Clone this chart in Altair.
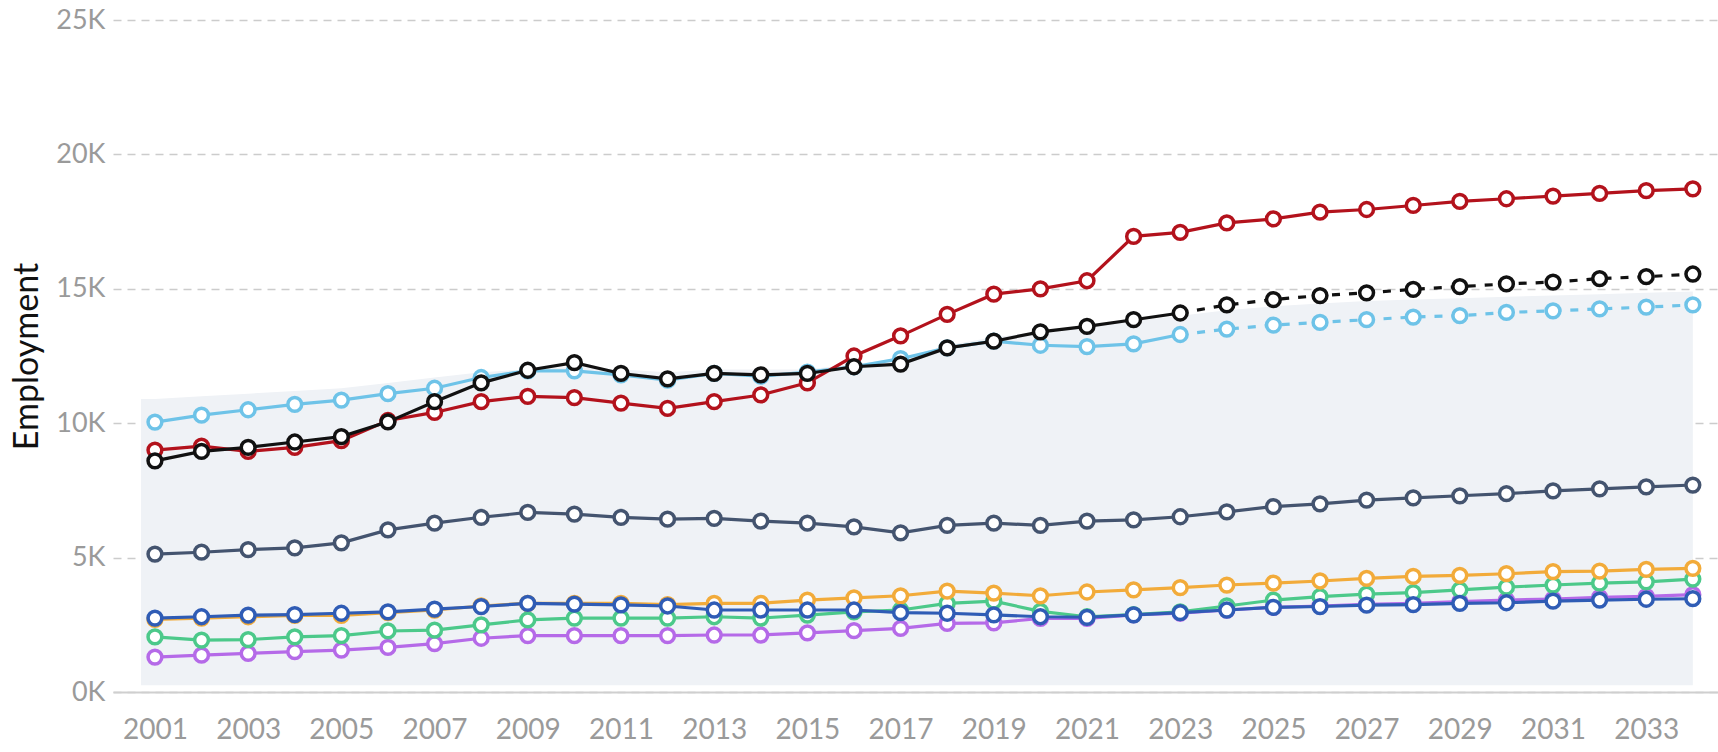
import altair as alt
import pandas as pd

years = list(range(2001, 2035))

red = [9.0, 9.15, 8.95, 9.1, 9.35, 10.1, 10.4, 10.8, 11.0, 10.95, 10.75, 10.55, 10.8, 11.05, 11.5,
       12.5, 13.25, 14.05, 14.8, 15.0, 15.3, 16.95, 17.1, 17.45, 17.6, 17.85, 17.95, 18.1, 18.25,
       18.35, 18.45, 18.55, 18.65, 18.72]
black = [8.6, 8.95, 9.1, 9.3, 9.5, 10.05, 10.8, 11.5, 11.97, 12.25, 11.85, 11.65, 11.85, 11.8, 11.85,
         12.1, 12.2, 12.8, 13.05, 13.4, 13.6, 13.85, 14.1, 14.4, 14.6, 14.75, 14.85, 14.98, 15.08,
         15.18, 15.25, 15.38, 15.45, 15.55]
light_blue = [10.04, 10.3, 10.5, 10.7, 10.86, 11.1, 11.3, 11.7, 11.95, 11.95, 11.8, 11.6, 11.85, 11.75,
              11.9, 12.1, 12.4, 12.8, 13.05, 12.9, 12.85, 12.95, 13.3, 13.5, 13.65, 13.75, 13.85,
              13.95, 14.0, 14.12, 14.18, 14.25, 14.32, 14.4]
slate = [5.13, 5.2, 5.3, 5.36, 5.55, 6.03, 6.28, 6.5, 6.68, 6.62, 6.5, 6.43, 6.46, 6.36, 6.28, 6.14,
         5.92, 6.2, 6.28, 6.2, 6.36, 6.4, 6.52, 6.7, 6.9, 7.0, 7.14, 7.22, 7.3, 7.38, 7.48, 7.56,
         7.63, 7.7]
orange = [2.7, 2.75, 2.8, 2.85, 2.85, 2.95, 3.05, 3.2, 3.3, 3.3, 3.3, 3.25, 3.3, 3.3, 3.42, 3.5, 3.58,
          3.75, 3.68, 3.58, 3.72, 3.8, 3.88, 3.98, 4.05, 4.13, 4.23, 4.3, 4.34, 4.4, 4.48, 4.5,
          4.56, 4.6]
green = [2.05, 1.93, 1.95, 2.05, 2.1, 2.27, 2.3, 2.5, 2.68, 2.75, 2.75, 2.75, 2.8, 2.75, 2.86, 2.98,
         3.05, 3.3, 3.38, 3.0, 2.8, 2.88, 2.98, 3.2, 3.42, 3.55, 3.64, 3.7, 3.8, 3.9, 3.98, 4.05,
         4.1, 4.2]
blue = [2.75, 2.8, 2.86, 2.88, 2.93, 2.98, 3.08, 3.18, 3.3, 3.27, 3.24, 3.2, 3.05, 3.05, 3.05, 3.05,
        2.95, 2.93, 2.87, 2.8, 2.78, 2.87, 2.95, 3.05, 3.15, 3.18, 3.23, 3.25, 3.3, 3.32, 3.38,
        3.42, 3.45, 3.47]
purple = [1.3, 1.37, 1.44, 1.5, 1.56, 1.66, 1.8, 2.0, 2.1, 2.1, 2.1, 2.1, 2.12, 2.12, 2.2, 2.28,
          2.37, 2.55, 2.57, 2.74, 2.74, 2.87, 2.93, 3.05, 3.15, 3.2, 3.26, 3.3, 3.36, 3.42, 3.46,
          3.52, 3.56, 3.62]
shade_years = [2000.7] + years
shade_top = [10.9, 10.9, 11.0, 11.1, 11.2, 11.3, 11.5, 11.7, 11.9, 12.0, 12.1, 12.0, 11.9, 12.0, 12.0,
             12.0, 12.2, 12.4, 12.9, 13.2, 13.4, 13.6, 13.8, 14.0, 14.2, 14.35, 14.45, 14.55, 14.6,
             14.65, 14.7, 14.75, 14.8, 14.85, 14.9]
shade_base = 0.25

series = [
    ("Purple", purple, "#b56ae8", None),
    ("Green", green, "#4cc98a", None),
    ("Orange", orange, "#f2ab3a", None),
    ("Blue", blue, "#2f5cb5", None),
    ("Slate", slate, "#44546f", None),
    ("LightBlue", light_blue, "#6ec3e8", 2023),
    ("Red", red, "#b3121c", None),
    ("Black", black, "#111111", 2023),
]

X = alt.X("year:Q",
          scale=alt.Scale(domain=[2000.1, 2034.54], nice=False, zero=False),
          axis=alt.Axis(values=list(range(2001, 2035, 2)), format="d", title=None,
                        grid=False, ticks=False, domain=True, domainColor="#cfcfcf",
                        domainWidth=2, labelColor="#9a9a9a", labelFont="Lato",
                        labelFontSize=28, labelPadding=24))
Y = alt.Y("value:Q",
          scale=alt.Scale(domain=[0, 25], nice=False),
          axis=alt.Axis(values=[0, 5, 10, 15, 20, 25], labelExpr="datum.value + 'K'",
                        title="Employment", titleFont="Lato", titleFontSize=34,
                        titleFontWeight="normal", titleColor="#111111", titleAngle=-90,
                        titleX=-86, titleY=336, titleBaseline="middle", titleAlign="center",
                        grid=True, gridColor="#cccccc", gridDash=[8, 6], gridWidth=1.5,
                        ticks=False, domain=False, labelColor="#9a9a9a", labelFont="Lato",
                        labelFontSize=27, labelPadding=8))

shade_df = pd.DataFrame({"year": shade_years, "value": shade_top,
                         "base": [shade_base] * len(shade_years)})
layers = [alt.Chart(shade_df).mark_area(color="#eff2f6").encode(x=X, y=Y, y2="base:Q")]

for name, vals, color, split in series:
    df = pd.DataFrame({"year": years, "value": vals})
    if split is None:
        layers.append(alt.Chart(df).mark_line(color=color, strokeWidth=3.2).encode(x=X, y=Y))
    else:
        solid = df[df.year <= split]
        dashed = df[df.year >= split]
        layers.append(alt.Chart(solid).mark_line(color=color, strokeWidth=3.2).encode(x=X, y=Y))
        layers.append(alt.Chart(dashed).mark_line(color=color, strokeWidth=3.2,
                                                  strokeDash=[8, 9]).encode(x=X, y=Y))
    layers.append(alt.Chart(df).mark_point(shape="circle", filled=True, fill="white",
                                           stroke=color, strokeWidth=3.5, size=190,
                                           opacity=1).encode(x=X, y=Y))

chart = alt.layer(*layers).properties(
    width=1605, height=672,
    padding={"left": 113, "top": 20, "right": 0, "bottom": 60},
    autosize="none",
    background="white",
).configure_view(stroke=None)

chart.save("out.html", embed_options={"renderer": "svg", "actions": False})
